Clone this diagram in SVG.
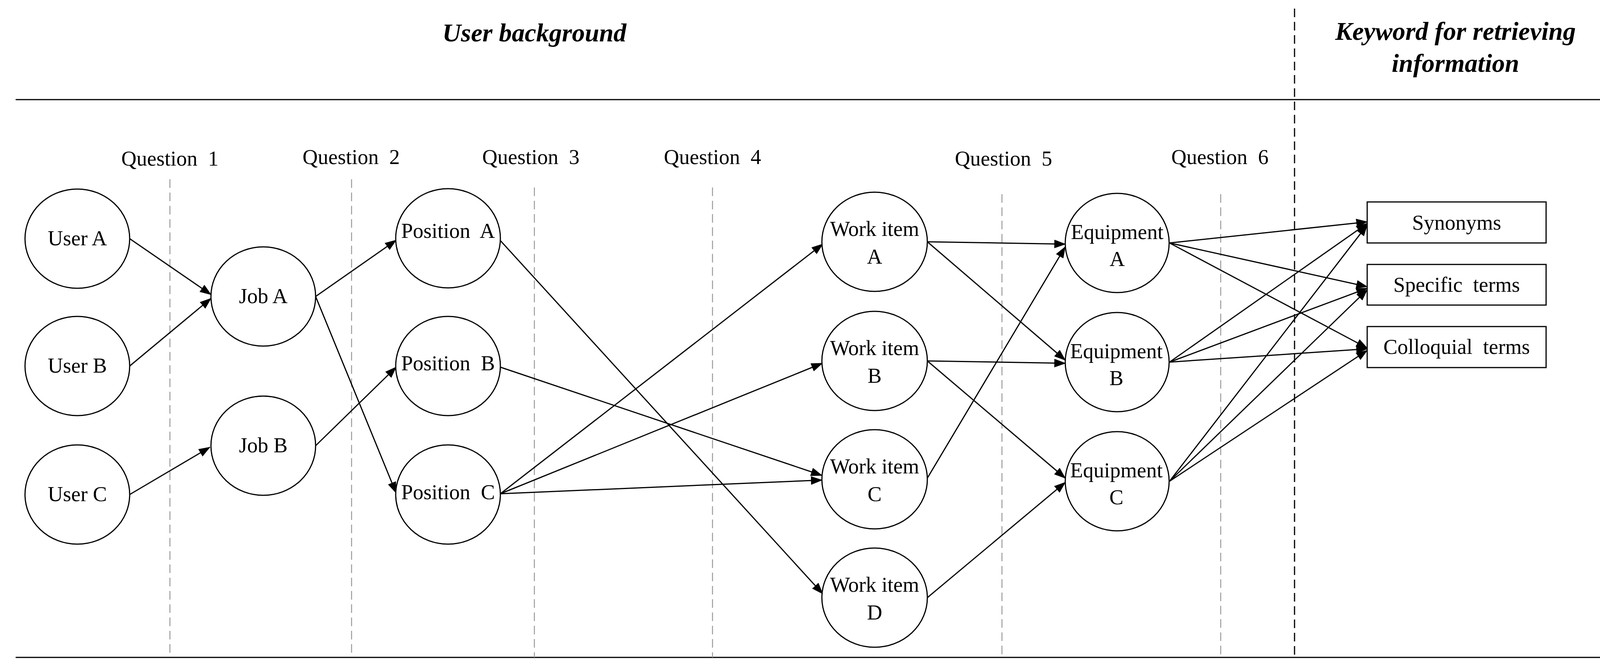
<svg xmlns="http://www.w3.org/2000/svg" width="4204" height="1705" viewBox="0 0 4204 1705">
<style>
text{font-family:"Liberation Serif","Times New Roman",serif;fill:#000;text-anchor:middle}
.lbl{font-size:54px}
.q{font-size:54px}
.ttl{font-size:66px;font-weight:bold;font-style:italic}
.n{fill:#fff;stroke:#000;stroke-width:3}
.e{stroke:#000;stroke-width:3;fill:none;marker-end:url(#ah)}
.g{stroke:#9a9a9a;stroke-width:2.5;stroke-dasharray:22 12}
</style>
<defs>
<marker id="ah" markerUnits="userSpaceOnUse" markerWidth="30" markerHeight="22" refX="28" refY="11" orient="auto">
<path d="M0,0 L30,11 L0,22 Z" fill="#000"/>
</marker>
</defs>
<rect width="4204" height="1705" fill="#fff"/>
<g id="frame">
<line x1="40" y1="255" x2="4196" y2="255" stroke="#000" stroke-width="3"/>
<line x1="40" y1="1683" x2="4196" y2="1683" stroke="#000" stroke-width="3"/>
<line x1="3314" y1="22" x2="3314" y2="1683" stroke="#000" stroke-width="3" stroke-dasharray="22 12"/>
<line class="g" x1="435" y1="459" x2="435" y2="1683"/>
<line class="g" x1="900" y1="459" x2="900" y2="1683"/>
<line class="g" x1="1368" y1="480" x2="1368" y2="1683"/>
<line class="g" x1="1824" y1="480" x2="1824" y2="1683"/>
<line class="g" x1="2565" y1="497" x2="2565" y2="1683"/>
<line class="g" x1="3125" y1="497" x2="3125" y2="1683"/>
<text class="ttl" x="1368" y="106">User background</text>
<text class="ttl" x="3726" y="102">Keyword for retrieving</text>
<text class="ttl" x="3726" y="184">information</text>
<text class="q" x="435" y="424" xml:space="preserve">Question  1</text>
<text class="q" x="899" y="420" xml:space="preserve">Question  2</text>
<text class="q" x="1359" y="420" xml:space="preserve">Question  3</text>
<text class="q" x="1824" y="420" xml:space="preserve">Question  4</text>
<text class="q" x="2569" y="424" xml:space="preserve">Question  5</text>
<text class="q" x="3123" y="420" xml:space="preserve">Question  6</text>
</g>
<g id="connectors">
<line class="e" x1="332" y1="611" x2="540" y2="754"/>
<line class="e" x1="332" y1="937" x2="540" y2="764"/>
<line class="e" x1="332" y1="1266" x2="537" y2="1145"/>
<line class="e" x1="808" y1="759" x2="1014" y2="615"/>
<line class="e" x1="808" y1="759" x2="1014" y2="1262"/>
<line class="e" x1="808" y1="1141" x2="1014" y2="940"/>
<line class="e" x1="1281" y1="616" x2="2106" y2="1520"/>
<line class="e" x1="1281" y1="940" x2="2104" y2="1217"/>
<line class="e" x1="1281" y1="1264" x2="2106" y2="625"/>
<line class="e" x1="1281" y1="1264" x2="2105" y2="930"/>
<line class="e" x1="1281" y1="1264" x2="2104" y2="1229"/>
<line class="e" x1="2374" y1="619" x2="2727" y2="625"/>
<line class="e" x1="2374" y1="619" x2="2727" y2="922"/>
<line class="e" x1="2374" y1="924" x2="2727" y2="930"/>
<line class="e" x1="2374" y1="924" x2="2727" y2="1224"/>
<line class="e" x1="2374" y1="1224" x2="2727" y2="632"/>
<line class="e" x1="2374" y1="1530" x2="2727" y2="1235"/>
<line class="e" x1="2994" y1="622" x2="3500" y2="568"/>
<line class="e" x1="2994" y1="622" x2="3500" y2="734"/>
<line class="e" x1="2994" y1="622" x2="3500" y2="891"/>
<line class="e" x1="2994" y1="927" x2="3500" y2="572"/>
<line class="e" x1="2994" y1="927" x2="3500" y2="738"/>
<line class="e" x1="2994" y1="927" x2="3500" y2="893"/>
<line class="e" x1="2994" y1="1232" x2="3500" y2="576"/>
<line class="e" x1="2994" y1="1232" x2="3500" y2="742"/>
<line class="e" x1="2994" y1="1232" x2="3500" y2="897"/>
</g>
<g id="userA"><ellipse class="n" cx="198" cy="611" rx="134" ry="127"/><text class="lbl" x="198" y="628">User A</text></g>
<g id="userB"><ellipse class="n" cx="198" cy="937" rx="134" ry="127"/><text class="lbl" x="198" y="954">User B</text></g>
<g id="userC"><ellipse class="n" cx="198" cy="1266" rx="134" ry="127"/><text class="lbl" x="198" y="1283">User C</text></g>
<g id="jobA"><ellipse class="n" cx="674" cy="759" rx="134" ry="127"/><text class="lbl" x="674" y="776">Job A</text></g>
<g id="jobB"><ellipse class="n" cx="674" cy="1141" rx="134" ry="127"/><text class="lbl" x="674" y="1158">Job B</text></g>
<g id="posA"><ellipse class="n" cx="1147" cy="610" rx="134" ry="127"/><text class="lbl" x="1147" y="609" xml:space="preserve">Position  A</text></g>
<g id="posB"><ellipse class="n" cx="1147" cy="937" rx="134" ry="127"/><text class="lbl" x="1147" y="948" xml:space="preserve">Position  B</text></g>
<g id="posC"><ellipse class="n" cx="1147" cy="1266" rx="134" ry="127"/><text class="lbl" x="1147" y="1278" xml:space="preserve">Position  C</text></g>
<g id="workA"><ellipse class="n" cx="2239" cy="619" rx="135" ry="127"/><text class="lbl" x="2239" y="604">Work item</text><text class="lbl" x="2239" y="675">A</text></g>
<g id="workB"><ellipse class="n" cx="2239" cy="924" rx="135" ry="127"/><text class="lbl" x="2239" y="909">Work item</text><text class="lbl" x="2239" y="980">B</text></g>
<g id="workC"><ellipse class="n" cx="2239" cy="1227" rx="135" ry="127"/><text class="lbl" x="2239" y="1212">Work item</text><text class="lbl" x="2239" y="1283">C</text></g>
<g id="workD"><ellipse class="n" cx="2239" cy="1530" rx="135" ry="127"/><text class="lbl" x="2239" y="1515">Work item</text><text class="lbl" x="2239" y="1586">D</text></g>
<g id="equipA"><ellipse class="n" cx="2860" cy="622" rx="133" ry="127"/><text class="lbl" x="2860" y="612">Equipment</text><text class="lbl" x="2860" y="681">A</text></g>
<g id="equipB"><ellipse class="n" cx="2860" cy="927" rx="133" ry="127"/><text class="lbl" x="2858" y="917">Equipment</text><text class="lbl" x="2858" y="986">B</text></g>
<g id="equipC"><ellipse class="n" cx="2860" cy="1232" rx="133" ry="127"/><text class="lbl" x="2858" y="1222">Equipment</text><text class="lbl" x="2858" y="1291">C</text></g>
<g id="synonyms"><rect class="n" x="3500" y="517" width="458" height="105"/><text class="lbl" x="3729" y="588">Synonyms</text></g>
<g id="specific"><rect class="n" x="3500" y="677" width="458" height="104"/><text class="lbl" x="3729" y="747" xml:space="preserve">Specific  terms</text></g>
<g id="colloquial"><rect class="n" x="3500" y="836" width="458" height="105"/><text class="lbl" x="3729" y="906" xml:space="preserve">Colloquial  terms</text></g>
</svg>
